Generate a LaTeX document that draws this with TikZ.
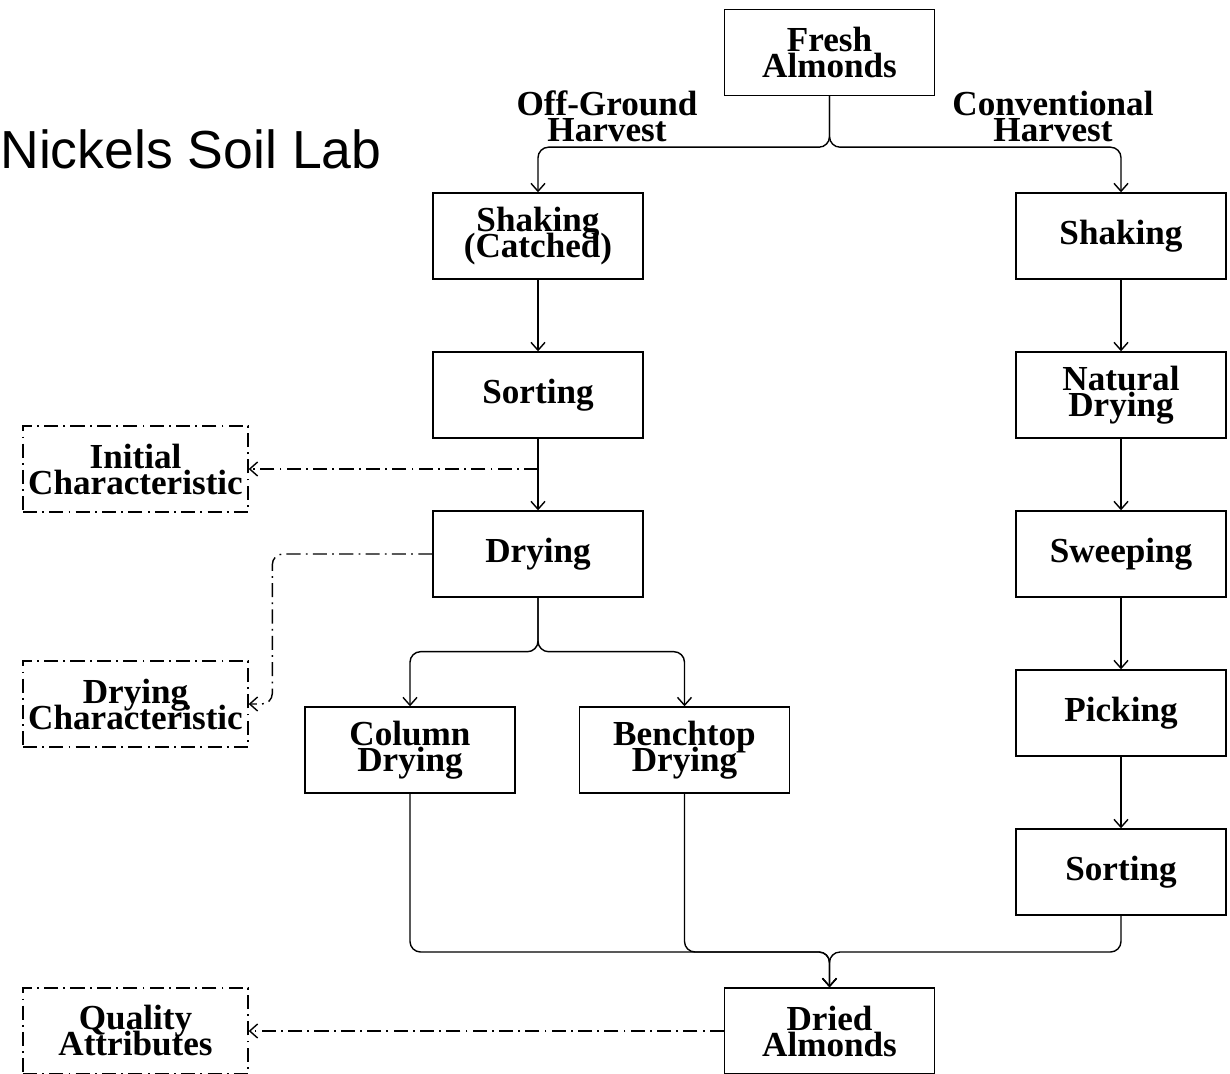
\documentclass[tikz,border=0pt]{standalone}
\usepackage{fontspec}
\setmainfont{Liberation Serif}
\newfontfamily\labfont{Liberation Sans}
\usetikzlibrary{arrows.meta}

\newcommand{\boxfont}{\fontsize{20}{14.8}\selectfont\bfseries\lineskiplimit=-100pt}

\begin{document}
\begin{tikzpicture}[
        x=0.02cm, y=-0.02cm,
        >={Straight Barb[length=4.5pt,width=8pt]},
        stepbox/.style={rectangle, draw, line width=0.8pt, minimum width=4.2cm, minimum height=1.72cm, inner sep=0pt, align=center, font=\boxfont},
        notebox/.style={rectangle, draw, line width=0.8pt, dash pattern=on 8pt off 3pt on 1pt off 3pt, minimum width=4.5cm, minimum height=1.72cm, inner sep=0pt, align=center, font=\boxfont},
        branchlabel/.style={align=center, inner sep=0pt, font=\boxfont},
        flow/.style={draw, ->, line width=0.8pt, rounded corners=6pt},
        note/.style={draw, ->, line width=0.8pt, dash pattern=on 8pt off 3pt on 1pt off 3pt, rounded corners=6pt}
    ]
    \useasboundingbox (0,0) rectangle (1230,1074);

    % ==========================================
    % 1. Top
    % ==========================================
    \node[anchor=west, inner sep=0pt, font=\labfont\fontsize{30.5}{34}\selectfont] (lab) at (0, 149) {Nickels Soil Lab};
    \node[stepbox] (fresh) at (829.5, 52.5) {Fresh\\Almonds};
    \node[branchlabel] (offlbl) at (607, 116) {Off-Ground\\Harvest};
    \node[branchlabel] (convlbl) at (1053, 116) {Conventional\\Harvest};

    % ==========================================
    % 2. Off-ground harvest (left column)
    % ==========================================
    \node[stepbox] (shake1) at (538, 236) {Shaking\\(Catched)};
    \node[stepbox] (sort1) at (538, 395) {Sorting};
    \node[stepbox] (dry) at (538, 554) {Drying};
    \node[stepbox] (column) at (410, 750) {Column\\Drying};
    \node[stepbox] (bench) at (684.5, 750) {Benchtop\\Drying};

    % ==========================================
    % 3. Conventional harvest (right column)
    % ==========================================
    \node[stepbox] (shake2) at (1121, 236) {Shaking};
    \node[stepbox] (natdry) at (1121, 395) {Natural\\Drying};
    \node[stepbox] (sweep) at (1121, 554) {Sweeping};
    \node[stepbox] (pick) at (1121, 713) {Picking};
    \node[stepbox] (sort2) at (1121, 872) {Sorting};

    % ==========================================
    % 4. Output and measurements
    % ==========================================
    \node[stepbox] (dried) at (829.5, 1031) {Dried\\Almonds};
    \node[notebox] (initchar) at (135.5, 469) {Initial\\Characteristic};
    \node[notebox] (drychar) at (135.5, 704) {Drying\\Characteristic};
    \node[notebox] (quality) at (135.5, 1031) {Quality\\Attributes};

    \coordinate (tap) at (538, 469);
    \coordinate (merge) at (829.5, 952);

    % 连线
    \path[flow] (fresh.south) -- ++(0,51) -| (shake1.north);
    \path[flow] (fresh.south) -- ++(0,51) -| (shake2.north);
    \path[flow] (shake1) -- (sort1);
    \path[flow] (sort1) -- (tap) -- (dry);
    \path[flow] (dry.south) -- ++(0,54) -| (column.north);
    \path[flow] (dry.south) -- ++(0,54) -| (bench.north);
    \foreach \i/\j in {shake2/natdry, natdry/sweep, sweep/pick, pick/sort2} {
        \path[flow] (\i) -- (\j);
    }
    \path[flow] (column.south) |- (merge) -- (dried.north);
    \path[flow] (bench.south) |- (merge) -- (dried.north);
    \path[flow] (sort2.south) |- (merge) -- (dried.north);

    % 测量 (点划线)
    \path[note] (tap) -- (initchar.east);
    \path[note] (dry.west) -- ++(-160,0) |- (drychar.east);
    \path[note] (dried.west) -- (quality.east);

    \end{tikzpicture}
\end{document}
